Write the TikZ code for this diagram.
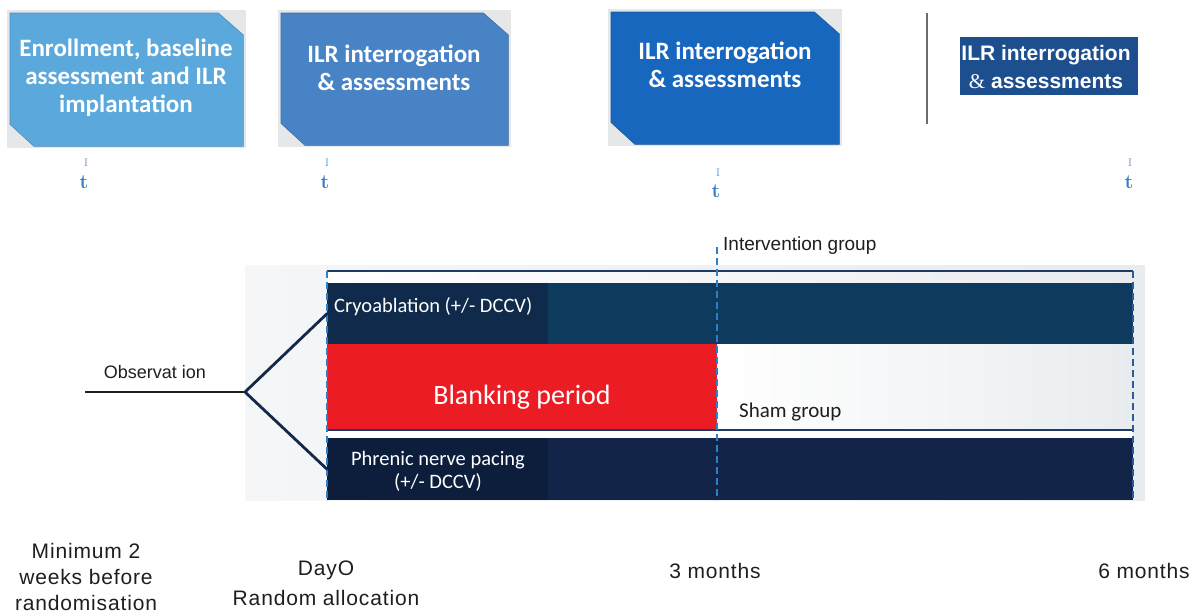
\documentclass[tikz,border=0pt]{standalone}
\usepackage{fontspec}
\usetikzlibrary{backgrounds}
\newfontfamily\arial{Liberation Sans}
\newfontfamily\arialsp[LetterSpace=4]{Liberation Sans}
\newfontfamily\carlito{Carlito}
\newfontfamily\timesamp{Liberation Serif}

\definecolor{boxA}{HTML}{5BA8DC}
\definecolor{boxB}{HTML}{4883C6}
\definecolor{boxC}{HTML}{1867BF}
\definecolor{boxD}{HTML}{1D4F8E}
\definecolor{shadowgray}{HTML}{E6E7E8}
\definecolor{cryoL}{HTML}{0F2A4A}
\definecolor{cryoR}{HTML}{0E3A5E}
\definecolor{phrL}{HTML}{0D1E3C}
\definecolor{phrR}{HTML}{132449}
\definecolor{blankred}{HTML}{EC1C24}
\definecolor{tickblue}{HTML}{3A7CC2}
\definecolor{dashblue}{HTML}{2F7ECB}
\definecolor{edgeblue}{HTML}{2C5C99}
\definecolor{outlineblue}{HTML}{1E3B66}
\definecolor{forkblue}{HTML}{13284A}
\definecolor{panelL}{HTML}{F4F6F8}
\definecolor{panelR}{HTML}{E9ECEF}
\definecolor{ink}{HTML}{1E1E1E}

\tikzset{
  stagebox/.style={rectangle, inner sep=0pt, anchor=north west},
  boxtext/.style={text=white, font=\carlito\bfseries\fontsize{25}{28}\selectfont, align=center, inner sep=0pt},
  smalltick/.style={text=tickblue!85, font=\fontsize{11}{11}\selectfont, inner sep=0pt},
  bigtick/.style={text=tickblue, font=\bfseries\fontsize{20}{20}\selectfont, inner sep=0pt},
  band/.style={rectangle, inner sep=0pt, anchor=north west},
  bandtext/.style={text=white, font=\carlito\fontsize{20.5}{23}\selectfont, inner sep=0pt},
  timelabel/.style={text=ink, font=\arialsp\fontsize{21}{27}\selectfont, align=center, inner sep=0pt},
  groupdash/.style={dashblue, line width=1.6pt, dash pattern=on 7pt off 4pt},
  edgedash/.style={edgeblue, line width=1.6pt, dash pattern=on 7pt off 4pt},
  outline/.style={outlineblue, line width=1.8pt},
  forkline/.style={forkblue, line width=2.8pt},
}

\begin{document}
\begin{tikzpicture}[x=1pt, y=-1pt]
\useasboundingbox (0,0) rectangle (1192,616);

% ---------- stage boxes along the top ----------
\node[stagebox, minimum width=233pt, minimum height=133pt] (b1) at (10,13) {};
\node[stagebox, minimum width=227pt, minimum height=132pt] (b2) at (281,13) {};
\node[stagebox, minimum width=228pt, minimum height=132pt] (b3) at (611,12) {};
\node[stagebox, minimum width=178pt, minimum height=58pt, fill=boxD] (b4) at (960,37) {};

\begin{scope}[on background layer]
  \foreach \n/\c in {b1/boxA, b2/boxB, b3/boxC}{
    \fill[shadowgray] ([xshift=-3pt,yshift=3pt]\n.north west) rectangle ([xshift=3pt,yshift=-2pt]\n.south east);
    \fill[\c, draw=\c!85!black, line width=0.6pt]
      (\n.north west) -- ([xshift=-25pt]\n.north east) -- ([yshift=-22pt]\n.north east)
      -- (\n.south east) -- ([xshift=24pt]\n.south west) -- ([yshift=22pt]\n.south west) -- cycle;
  }
\end{scope}

\node[boxtext] (t1) at (126,78) {Enrollment, baseline\\assessment and ILR\\implantation};
\node[boxtext] (t2) at (394,68) {ILR interrogation\\\& assessments};
\node[boxtext] (t3) at (725,65) {ILR interrogation\\\& assessments};
\node[text=white, font=\arial\bfseries\fontsize{21}{28}\selectfont, align=center, inner sep=0pt]
  (t4) at (1046,67) {ILR interrogation\\{\timesamp\mdseries\&} assessments};

% separator
\coordinate (sepA) at (927,13);
\coordinate (sepB) at (927,124);
\draw[gray!85!black, line width=1.8pt] (sepA) -- (sepB);

% ---------- time ticks ----------
\node[smalltick] (i1) at (86,163) {I};
\node[bigtick]   (k1) at (84,182) {t};
\node[smalltick] (i2) at (327,163) {I};
\node[bigtick]   (k2) at (325,182) {t};
\node[smalltick] (i3) at (718,173) {I};
\node[bigtick]   (k3) at (716,191) {t};
\node[smalltick] (i4) at (1130,163) {I};
\node[bigtick]   (k4) at (1129,182) {t};

% ---------- study arms panel ----------
\node[band, minimum width=900pt, minimum height=235pt, left color=panelL, right color=panelR] (panel) at (245,265) {};
\node[band, minimum width=806pt, minimum height=12pt, left color=white, right color=panelR] (topstrip) at (327,271) {};
\node[band, minimum width=806pt, minimum height=8pt, fill=white] (midstrip) at (327,430) {};

\node[band, minimum width=806pt, minimum height=61pt, fill=cryoR] (cryo) at (327,283) {};
\fill[cryoL] (cryo.north west) rectangle ([xshift=221pt]cryo.south west);
\node[band, minimum width=806pt, minimum height=62pt, fill=phrR] (phren) at (327,438) {};
\fill[phrL] (phren.north west) rectangle ([xshift=221pt]phren.south west);

\node[band, minimum width=390pt, minimum height=86pt, fill=blankred] (blank) at (327,344) {};
\node[band, minimum width=416pt, minimum height=86pt, left color=white, right color=panelR] (sham) at (717,344) {};

% outline of the intervention / sham block
\draw[outline] (topstrip.north west) -- (topstrip.north east);
\draw[outline] (midstrip.north west) -- (midstrip.north east);

% dashed time markers
\coordinate (d0top) at (327,271);
\coordinate (d0bot) at (327,500);
\coordinate (d3top) at (717,247);
\coordinate (d3bot) at (717,500);
\coordinate (d6top) at (1133,271);
\coordinate (d6bot) at (1133,500);
\draw[groupdash] (d0top) -- (d0bot);
\draw[groupdash] (d3top) -- (d3bot);
\draw[edgedash] (d6top) -- (d6bot);

% texts inside the panel
\node[bandtext, anchor=west] (cryotxt) at (334,307) {Cryoablation (+/- DCCV)};
\node[text=white, font=\carlito\fontsize{28}{30}\selectfont, inner sep=0pt] (blanktxt) at (522,397) {Blanking period};
\node[text=ink, font=\carlito\fontsize{21}{23}\selectfont, inner sep=0pt, anchor=west] (shamtxt) at (739,412) {Sham group};
\node[bandtext, align=center] (phrentxt) at (438,471) {Phrenic nerve pacing\\(+/- DCCV)};
\node[text=ink, font=\arial\fontsize{19}{21}\selectfont, inner sep=0pt, anchor=west] (intv) at (723,246) {Intervention group};

% observation and randomisation fork
\coordinate (obsL) at (85,392);
\coordinate (fork) at (245,392);
\draw[ink, line width=2.8pt] (obsL) -- (fork);
\node[text=ink, font=\arial\fontsize{18}{20}\selectfont, inner sep=0pt] (obs) at (155,372) {Observat ion};
\draw[forkline, line cap=round, line join=round] (cryo.west) -- (fork) -- (phren.west);

% ---------- time axis labels ----------
\node[timelabel, font=\arialsp\fontsize{21}{26}\selectfont] (lab0) at (86,577) {Minimum 2\\weeks before\\randomisation};
\node[timelabel, font=\arialsp\fontsize{21}{30}\selectfont] (lab1) at (326,583) {DayO\\Random allocation};
\node[timelabel] (lab2) at (715,571) {3 months};
\node[timelabel] (lab3) at (1144,571) {6 months};
\end{tikzpicture}
\end{document}
